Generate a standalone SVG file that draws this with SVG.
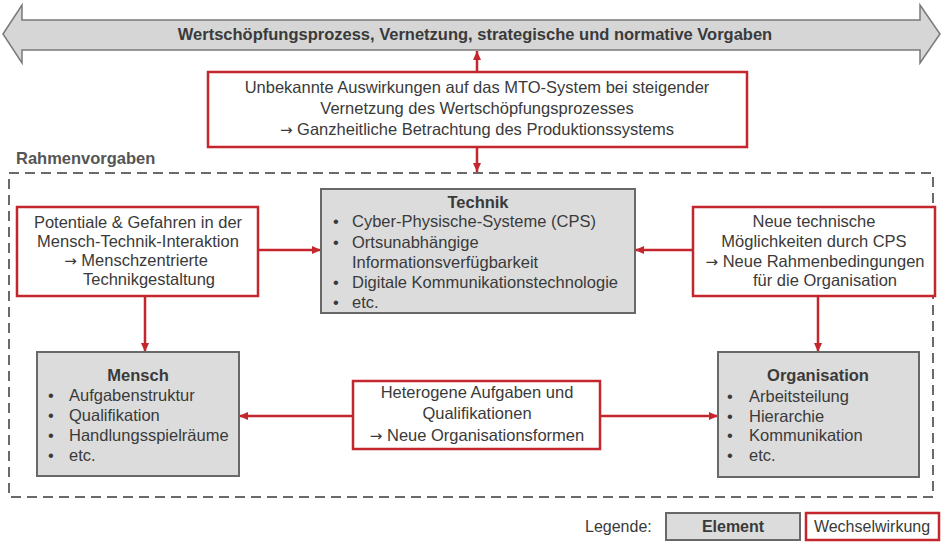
<svg xmlns="http://www.w3.org/2000/svg" width="942" height="542" viewBox="0 0 942 542">
<defs>
<style>
text{font-family:"Liberation Sans",Arial,sans-serif;font-size:16.5px;fill:#3a3a3a}
.b{font-weight:bold}
.c{text-anchor:middle}
.ar{font-family:"DejaVu Sans",sans-serif;font-size:15px}
.el{fill:#dcdcdc;stroke:#686868;stroke-width:2}
.ww{fill:#fff;stroke:#c4262e;stroke-width:2.5}
.cn{stroke:#c4262e;stroke-width:2.5;fill:none;marker-end:url(#ah)}
</style>
<marker id="ah" markerUnits="userSpaceOnUse" markerWidth="10" markerHeight="10" refX="9" refY="5" orient="auto">
<path d="M0,1 L9,5 L0,9 z" fill="#c4262e"/>
</marker>
</defs>
<rect width="942" height="542" fill="#fff"/>
<g id="rahmen">
<rect x="9" y="173" width="924" height="324" fill="none" stroke="#6a6a6a" stroke-width="2" stroke-dasharray="10 6"/>
<text x="16" y="164" class="b" style="fill:#555">Rahmenvorgaben</text>
</g>
<g id="prozess">
<polygon points="3,34 22,5 22,20 920,20 920,5 940,34 920,63 920,50 22,50 22,63" fill="#d6d6d6" stroke="#7a7a7a" stroke-width="1.5"/>
<text x="475" y="40" class="b c">Wertschöpfungsprozess, Vernetzung, strategische und normative Vorgaben</text>
</g>
<g id="connectors">
<line x1="477" y1="72" x2="477" y2="51" class="cn"/>
<line x1="477" y1="147" x2="477" y2="172" class="cn"/>
<line x1="258" y1="250" x2="321" y2="250" class="cn"/>
<line x1="693" y1="250" x2="635" y2="250" class="cn"/>
<line x1="145" y1="296" x2="145" y2="352" class="cn"/>
<line x1="818" y1="296" x2="818" y2="352" class="cn"/>
<line x1="353" y1="416" x2="239" y2="416" class="cn"/>
<line x1="600" y1="416" x2="718" y2="416" class="cn"/>
</g>
<g id="ww-mto">
<rect x="208" y="72" width="539" height="75" class="ww"/>
<text x="477" y="93" class="c">Unbekannte Auswirkungen auf das MTO-System bei steigender</text>
<text x="477" y="114" class="c">Vernetzung des Wertschöpfungsprozesses</text>
<text x="477" y="135" class="c"><tspan class="ar">→</tspan> Ganzheitliche Betrachtung des Produktionssystems</text>
</g>
<g id="technik">
<rect x="321" y="189" width="314" height="124" class="el"/>
<text x="478" y="208" class="b c">Technik</text>
<text x="333" y="227">•</text><text x="352" y="227">Cyber-Physische-Systeme (CPS)</text>
<text x="333" y="248">•</text><text x="352" y="248">Ortsunabhängige</text>
<text x="352" y="268">Informationsverfügbarkeit</text>
<text x="333" y="288">•</text><text x="352" y="288">Digitale Kommunikationstechnologie</text>
<text x="333" y="308">•</text><text x="352" y="308">etc.</text>
</g>
<g id="ww-mti">
<rect x="17" y="207" width="241" height="89" class="ww"/>
<text x="138" y="228" class="c">Potentiale &amp; Gefahren in der</text>
<text x="138" y="247" class="c">Mensch-Technik-Interaktion</text>
<text x="136" y="266" class="c"><tspan class="ar">→</tspan> Menschzentrierte</text>
<text x="149" y="285" class="c">Technikgestaltung</text>
</g>
<g id="ww-cps">
<rect x="693" y="207" width="242" height="89" class="ww"/>
<text x="814" y="227" class="c">Neue technische</text>
<text x="814" y="247" class="c">Möglichkeiten durch CPS</text>
<text x="815" y="267" class="c"><tspan class="ar">→</tspan> Neue Rahmenbedingungen</text>
<text x="825" y="286" class="c">für die Organisation</text>
</g>
<g id="mensch">
<rect x="37" y="352" width="202" height="124" class="el"/>
<text x="138" y="381" class="b c">Mensch</text>
<text x="48" y="401">•</text><text x="69" y="401">Aufgabenstruktur</text>
<text x="48" y="421">•</text><text x="69" y="421">Qualifikation</text>
<text x="48" y="441">•</text><text x="69" y="441">Handlungsspielräume</text>
<text x="48" y="461">•</text><text x="69" y="461">etc.</text>
</g>
<g id="ww-org">
<rect x="353" y="381" width="247" height="68" class="ww"/>
<text x="477" y="398" class="c">Heterogene Aufgaben und</text>
<text x="477" y="419" class="c">Qualifikationen</text>
<text x="477" y="441" class="c"><tspan class="ar">→</tspan> Neue Organisationsformen</text>
</g>
<g id="organisation">
<rect x="718" y="352" width="201" height="125" class="el"/>
<text x="818" y="381" class="b c">Organisation</text>
<text x="727" y="402">•</text><text x="749" y="402">Arbeitsteilung</text>
<text x="727" y="422">•</text><text x="749" y="422">Hierarchie</text>
<text x="727" y="441">•</text><text x="749" y="441">Kommunikation</text>
<text x="727" y="461">•</text><text x="749" y="461">etc.</text>
</g>
<g id="legende">
<text x="585" y="532" style="font-size:16px">Legende:</text>
<rect x="666" y="513" width="134" height="27" class="el"/>
<text x="733" y="532" class="b c" style="font-size:16px">Element</text>
<rect x="806" y="513" width="133" height="27" class="ww"/>
<text x="872" y="532" class="c" style="font-size:16px">Wechselwirkung</text>
</g>
</svg>
